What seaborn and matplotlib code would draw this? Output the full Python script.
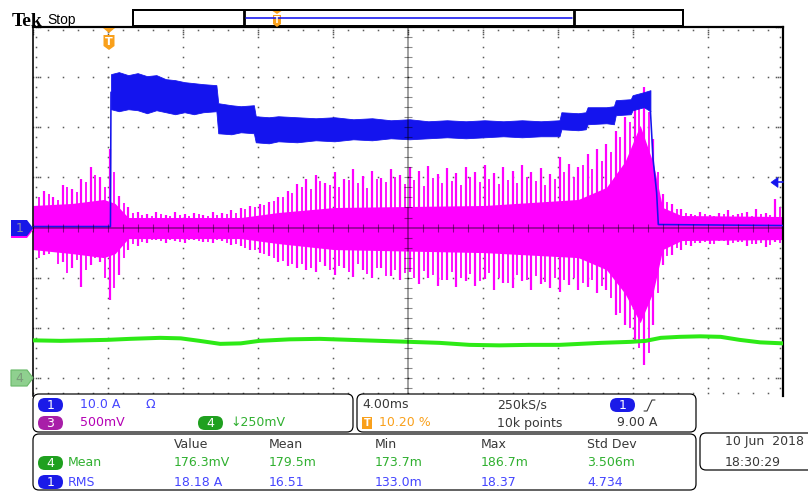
import numpy as np
import matplotlib
matplotlib.use("Agg")
import matplotlib.pyplot as plt
import matplotlib.transforms as mtransforms
from matplotlib.patches import FancyBboxPatch, Polygon, Rectangle
import seaborn as sns

sns.set_theme(style="white")
plt.rcParams["font.family"] = ["DejaVu Sans"]

# ---------------- acquisition settings ----------------
TIME_PER_DIV = 4.0        # ms / div
T_START = -4.08           # ms at left edge (trigger position 10.20 %)
CH1_A_PER_DIV = 10.0      # A / div
CH3_V_PER_DIV = 0.5       # V / div
CH4_V_PER_DIV = 0.25      # V / div
CH4_OFFSET_DIV = -3.0     # ch4 ground marker position
TRIG_LEVEL_A = 9.00

# ---------------- channel 1 : current (A) ----------------
ch1_lead_t = [-4.08, 0.05, 0.08]
ch1_lead_a = [0.2, 0.2, 27.0]
ch1_band_t = [0.08, 0.5, 1.0, 1.5, 2.0, 2.5, 3.0, 3.5, 4.0, 4.5, 5.0, 5.7, 5.8, 6.5,
              7.0, 7.7, 7.8, 8.5, 9.0, 10, 11, 12, 13, 14, 15, 16, 17, 18, 19, 20,
              21, 22, 23, 24.0, 24.1, 25.0, 25.4, 25.5, 26.5, 26.9, 27.0, 27.8, 27.9,
              28.5, 28.85]
ch1_band_hi = [30.6, 31.0, 30.4, 30.8, 30.2, 30.4, 29.6, 29.4, 29.0, 28.8, 28.6, 28.4,
               24.8, 24.4, 24.2, 24.4, 22.2, 22.0, 22.2, 22.0, 21.8, 22.0, 21.6, 21.8,
               21.4, 21.6, 21.2, 21.4, 21.2, 21.4, 21.2, 21.4, 21.2, 21.4, 23.0, 22.8,
               23.0, 24.0, 24.0, 24.2, 25.4, 25.6, 26.4, 27.0, 27.4]
ch1_band_lo = [23.6, 23.2, 23.6, 23.4, 22.8, 23.4, 23.0, 22.6, 23.0, 22.6, 23.0, 23.2,
               18.8, 18.6, 19.0, 18.8, 17.0, 16.8, 17.2, 17.0, 17.4, 17.2, 17.6, 17.4,
               17.8, 17.6, 17.8, 18.0, 17.8, 18.0, 18.2, 18.0, 18.2, 18.2, 19.6, 19.4,
               19.6, 20.6, 20.8, 20.6, 22.4, 22.6, 23.4, 24.0, 23.2]
ch1_tail_t = [28.85, 28.99, 29.18, 29.27, 35.92]
ch1_tail_a = [23.2, 13.6, 7.0, 0.6, 0.4]

# ---------------- channel 3 : voltage (V) ----------------
# main ringing peaks
ch3_spike_t = [-3.5, -3.0, -2.5, -2.0, -1.5, -1.0, -0.5, 0.0, 0.5, 1.0, 1.5, 2.0, 2.5,
               3.0, 3.5, 4.0, 4.5, 5.0, 5.5, 6.0, 6.5, 7.0, 7.5, 8.0, 8.5, 9.0, 9.5,
               10.0, 10.5, 11.0, 11.5, 12.0, 12.5, 13.0, 13.5, 14.0, 14.5, 15.0, 15.5,
               16.0, 16.5, 17.0, 17.5, 18.0, 18.5, 19.0, 19.5, 20.0, 20.5, 21.0, 21.5,
               22.0, 22.5, 23.0, 23.5, 24.0, 24.5, 25.0, 25.5, 26.0, 26.5, 27.0, 27.5,
               28.0, 28.5, 29.0, 29.5, 30.0, 30.5, 31.0, 31.5, 32.0, 32.5, 33.0, 33.5,
               34.0, 34.5, 35.0, 35.5]
ch3_spike_hi = [0.36, 0.30, 0.42, 0.38, 0.48, 0.60, 0.50, 0.78, 0.31, 0.20, 0.16, 0.14,
                0.16, 0.13, 0.16, 0.14, 0.15, 0.13, 0.16, 0.15, 0.17, 0.19, 0.21, 0.23,
                0.25, 0.30, 0.36, 0.43, 0.48, 0.52, 0.44, 0.55, 0.48, 0.58, 0.51, 0.56,
                0.49, 0.58, 0.52, 0.60, 0.56, 0.61, 0.53, 0.59, 0.54, 0.60, 0.55, 0.62,
                0.54, 0.60, 0.56, 0.62, 0.55, 0.59, 0.53, 0.70, 0.63, 0.60, 0.73, 0.78,
                0.83, 0.96, 1.10, 1.28, 1.40, 0.88, 0.33, 0.23, 0.18, 0.14, 0.16, 0.13,
                0.15, 0.17, 0.14, 0.16, 0.18, 0.15, 0.28]
ch3_spike_lo = [-0.27, -0.22, -0.34, -0.40, -0.59, -0.37, -0.34, -0.72, -0.47, -0.22,
                -0.18, -0.15, -0.12, -0.15, -0.13, -0.15, -0.12, -0.14, -0.15, -0.13,
                -0.17, -0.18, -0.22, -0.25, -0.28, -0.34, -0.38, -0.40, -0.42, -0.44,
                -0.38, -0.47, -0.40, -0.49, -0.42, -0.50, -0.40, -0.48, -0.52, -0.44,
                -0.56, -0.50, -0.58, -0.52, -0.59, -0.53, -0.58, -0.51, -0.62, -0.55,
                -0.60, -0.53, -0.62, -0.56, -0.60, -0.64, -0.57, -0.62, -0.59, -0.65,
                -0.62, -0.87, -0.97, -1.12, -1.37, -0.97, -0.37, -0.27, -0.22, -0.18,
                -0.15, -0.16, -0.13, -0.17, -0.14, -0.18, -0.16, -0.19, -0.14]
# smaller peaks between the main ones
ch3_minor_t = [-3.75, -3.25, -2.75, -2.25, -1.75, -1.25, -0.75, -0.25, 0.25, 0.75,
               1.25, 1.75, 2.25, 2.75, 3.25, 3.75, 4.25, 4.75, 5.25, 5.75, 6.25, 6.75,
               7.25, 7.75, 8.25, 8.75, 9.25, 9.75, 10.25, 10.75, 11.25, 11.75, 12.25,
               12.75, 13.25, 13.75, 14.25, 14.75, 15.25, 15.75, 16.25, 16.75, 17.25,
               17.75, 18.25, 18.75, 19.25, 19.75, 20.25, 20.75, 21.25, 21.75, 22.25,
               22.75, 23.25, 23.75, 24.25, 24.75, 25.25, 25.75, 26.25, 26.75, 27.25,
               27.75, 28.25, 28.75, 29.25, 29.75, 30.25, 30.75, 31.25, 31.75, 32.25,
               32.75, 33.25, 33.75, 34.25, 34.75, 35.25, 35.75]
ch3_minor_hi = [0.30, 0.33, 0.27, 0.40, 0.35, 0.45, 0.52, 0.40, 0.55, 0.24, 0.15, 0.13,
                0.12, 0.14, 0.12, 0.13, 0.12, 0.14, 0.12, 0.13, 0.14, 0.15, 0.18, 0.20,
                0.22, 0.26, 0.30, 0.34, 0.40, 0.38, 0.46, 0.42, 0.40, 0.47, 0.44, 0.39,
                0.48, 0.45, 0.50, 0.43, 0.47, 0.41, 0.49, 0.44, 0.46, 0.42, 0.50, 0.45,
                0.48, 0.43, 0.47, 0.44, 0.50, 0.46, 0.42, 0.48, 0.55, 0.50, 0.62, 0.58,
                0.66, 0.75, 0.90, 1.05, 1.20, 1.15, 0.55, 0.25, 0.18, 0.15, 0.13, 0.14,
                0.12, 0.14, 0.13, 0.15, 0.12, 0.14, 0.13, 0.20]
ch3_minor_lo = [-0.30, -0.26, -0.36, -0.45, -0.32, -0.42, -0.30, -0.50, -0.60, -0.30,
                -0.16, -0.14, -0.12, -0.13, -0.12, -0.14, -0.12, -0.13, -0.14, -0.12,
                -0.15, -0.16, -0.20, -0.22, -0.26, -0.30, -0.33, -0.36, -0.36, -0.40,
                -0.34, -0.42, -0.38, -0.44, -0.36, -0.46, -0.40, -0.48, -0.42, -0.45,
                -0.50, -0.43, -0.47, -0.52, -0.44, -0.50, -0.46, -0.53, -0.45, -0.50,
                -0.55, -0.47, -0.52, -0.48, -0.54, -0.50, -0.52, -0.50, -0.55, -0.52,
                -0.58, -0.70, -0.85, -1.00, -1.20, -1.25, -0.65, -0.28, -0.20, -0.17,
                -0.15, -0.14, -0.16, -0.13, -0.15, -0.14, -0.16, -0.15, -0.17, -0.15]
# dense noise body
ch3_core_t = [-4.08, -2.0, -0.3, 0.3, 1.0, 7.0, 9.0, 12.0, 20.0, 25.0, 26.5, 27.5, 28.3,
              29.0, 29.5, 30.5, 35.92]
ch3_core_hi = [0.22, 0.24, 0.28, 0.24, 0.10, 0.10, 0.15, 0.20, 0.22, 0.28, 0.40, 0.66,
               1.02, 0.64, 0.20, 0.12, 0.11]
ch3_core_lo = [-0.22, -0.26, -0.30, -0.26, -0.11, -0.11, -0.16, -0.22, -0.25, -0.30,
               -0.42, -0.66, -0.95, -0.64, -0.22, -0.13, -0.12]

# ---------------- channel 4 : voltage (mV) ----------------
ch4_t = [-4.08, -2.6, -0.1, 1.1, 2.7, 3.8, 4.8, 5.9, 7.0, 8.0, 9.6, 11.2, 12.8, 14.4,
         16.0, 17.6, 19.2, 20.8, 22.4, 24.0, 26.2, 27.8, 28.6, 29.4, 30.4, 31.5, 32.6,
         33.6, 34.7, 35.92]
ch4_mv = [187.5, 185, 190, 195, 200, 197.5, 185, 170, 172.5, 185, 192.5, 195, 190, 185,
          180, 175, 165, 162.5, 165, 165, 175, 180, 185, 200, 205, 207.5, 205, 190,
          177.5, 172.5]

# ---------------- readouts ----------------
meas_headers = ["Value", "Mean", "Min", "Max", "Std Dev"]
ch4_mean_stats = ["176.3mV", "179.5m", "173.7m", "186.7m", "3.506m"]
ch1_rms_stats = ["18.18 A", "16.51", "133.0m", "18.37", "4.734"]

# ---------------- colours ----------------
BLUE = "#1414EE"
BLUE_TXT = "#4646FF"
MAG = "#FF00FF"
PURP = "#A81EA8"
PURP_TXT = "#B400B4"
GRN = "#2DEA16"
GRN_PILL = "#1FA01F"
GRN_TXT = "#30B030"
ORANGE = "#F9A01B"
GRAY_TXT = "#383838"

W, H = 808, 491
PX = 0.72  # points per pixel at 100 dpi

fig = plt.figure(figsize=(W / 100, H / 100), dpi=100)
fig.patch.set_facecolor("white")

# ---------------- graticule axes ----------------
ax = fig.add_axes([33 / W, (H - 396) / H, 750 / W, 369 / H])
t_end = T_START + 10 * TIME_PER_DIV
Y_BOT, Y_TOP = -3.36, 4.0
ax.set_xlim(T_START, t_end)
ax.set_ylim(Y_BOT, Y_TOP)
ax.set_facecolor("white")
ax.set_xticks([])
ax.set_yticks([])
for side, lw in (("left", 1.6), ("top", 2.2), ("right", 2.2)):
    ax.spines[side].set_color("black")
    ax.spines[side].set_linewidth(lw * PX)
ax.spines["bottom"].set_visible(False)

xpx = (t_end - T_START) / 750.0
ypx = (Y_TOP - Y_BOT) / 369.0

minor_x = T_START + 0.2 * TIME_PER_DIV * np.arange(0, 51)
minor_y = 0.2 * np.arange(-16, 21)
dot_kw = dict(ls="none", marker="s", ms=1.1, mew=0, color="#5a5a5a", zorder=1)
for i in range(1, 10):
    if i == 5:
        continue
    ax.plot(np.full(minor_y.size, T_START + i * TIME_PER_DIV), minor_y, **dot_kw)
for j in range(-3, 4):
    if j == 0:
        continue
    ax.plot(minor_x, np.full(minor_x.size, float(j)), **dot_kw)

# edge ticks
ax.plot(np.full(minor_y.size, T_START + 3 * xpx), minor_y, **dot_kw)
ax.plot(np.full(minor_y.size, t_end - 3 * xpx), minor_y, **dot_kw)
ax.plot(minor_x, np.full(minor_x.size, Y_TOP - 3 * ypx), **dot_kw)
ax.plot(minor_x, np.full(minor_x.size, Y_BOT + 3 * ypx), **dot_kw)
major_y = np.arange(-3, 5).astype(float)
major_x = T_START + TIME_PER_DIV * np.arange(0, 11)
for off in (5, 7):
    ax.plot(np.full(major_y.size, T_START + off * xpx), major_y, **dot_kw)
    ax.plot(np.full(major_y.size, t_end - off * xpx), major_y, **dot_kw)
    ax.plot(major_x, np.full(major_x.size, Y_TOP - off * ypx), **dot_kw)

# ---------------- traces ----------------
ax.fill_between(ch3_core_t, np.array(ch3_core_hi) / CH3_V_PER_DIV,
                np.array(ch3_core_lo) / CH3_V_PER_DIV, color=MAG, lw=0, zorder=2)
ax.vlines(ch3_minor_t, np.array(ch3_minor_lo) / CH3_V_PER_DIV,
          np.array(ch3_minor_hi) / CH3_V_PER_DIV, color=MAG, lw=1.8 * PX, zorder=2)
ax.vlines(ch3_spike_t, np.array(ch3_spike_lo) / CH3_V_PER_DIV,
          np.array(ch3_spike_hi) / CH3_V_PER_DIV, color=MAG, lw=2.2 * PX, zorder=2)

sns.lineplot(x=ch4_t, y=np.array(ch4_mv) / 1000.0 / CH4_V_PER_DIV + CH4_OFFSET_DIV,
             ax=ax, color=GRN, lw=4.0 * PX, estimator=None, sort=False,
             legend=False, zorder=3)

ax.fill_between(ch1_band_t, np.array(ch1_band_hi) / CH1_A_PER_DIV,
                np.array(ch1_band_lo) / CH1_A_PER_DIV, color=BLUE, ec=BLUE,
                lw=0.8 * PX, zorder=4)
sns.lineplot(x=ch1_lead_t, y=np.array(ch1_lead_a) / CH1_A_PER_DIV, ax=ax, color=BLUE,
             lw=1.6 * PX, estimator=None, sort=False, legend=False, zorder=4)
sns.lineplot(x=ch1_tail_t, y=np.array(ch1_tail_a) / CH1_A_PER_DIV, ax=ax, color=BLUE,
             lw=1.6 * PX, estimator=None, sort=False, legend=False, zorder=4)

# ---------------- centre crosshair ----------------
cross_kw = dict(color="black", alpha=0.45, zorder=6)
center_t = T_START + 5 * TIME_PER_DIV
ax.axvline(center_t, lw=1.6 * PX, **cross_kw)
ax.axhline(0, lw=1.6 * PX, **cross_kw)
ty = minor_y[np.abs(minor_y) > 1e-9]
ax.hlines(ty, center_t - 4 * xpx, center_t + 4 * xpx, lw=1.1 * PX, **cross_kw)
tx = minor_x[np.abs(minor_x - center_t) > 1e-9]
ax.vlines(tx, -4 * ypx, 4 * ypx, lw=1.1 * PX, **cross_kw)

# trigger level arrow on the right edge
trig_div = TRIG_LEVEL_A / CH1_A_PER_DIV
trans = mtransforms.blended_transform_factory(ax.transAxes, ax.transData)
ax.add_patch(Polygon([(1 - 12 / 750, trig_div), (1 - 5 / 750, trig_div + 5 * ypx),
                      (1 - 5 / 750, trig_div - 5 * ypx)], closed=True, fc=BLUE,
                     ec=BLUE, lw=0.5, transform=trans, clip_on=False, zorder=7))
ax.plot([1 - 6 / 750, 1.0], [trig_div, trig_div], color=BLUE, lw=1.6 * PX,
        transform=trans, clip_on=False, zorder=7)

# ---------------- screen furniture (pixel coordinates) ----------------
ui = fig.add_axes([0, 0, 1, 1], zorder=5)
ui.set_xlim(0, W)
ui.set_ylim(H, 0)
ui.axis("off")

FS = 9


def rbox(x0, y0, x1, y1, r=6, lw=1.2, ec="black", fc="white", z=1):
    ui.add_patch(FancyBboxPatch((x0, y0), x1 - x0, y1 - y0,
                                boxstyle=f"round,pad=0,rounding_size={r}",
                                ec=ec, fc=fc, lw=lw * PX, zorder=z))


def pill(x0, y0, label, color):
    rbox(x0, y0, x0 + 25, y0 + 14, r=7, lw=0, ec=color, fc=color, z=2)
    ui.text(x0 + 12.5, y0 + 7.3, label, color="white", fontsize=FS,
            ha="center", va="center", zorder=3)


def txt(x, y, s, color=GRAY_TXT, **kw):
    ui.text(x, y, s, color=color, fontsize=FS, ha="left", va="center", **kw)


# title
ui.text(12, 26, "Tek", family="Liberation Serif", weight="bold", fontsize=14,
        color="black", va="baseline")
ui.text(47, 24, "Stop", family="Liberation Sans", fontsize=10, color="black",
        va="baseline")

# record bar
ui.add_patch(Rectangle((133, 10), 550, 16, fc="white", ec="black", lw=2 * PX))
ui.plot([244, 244], [10, 26], color="black", lw=2.8 * PX)
ui.plot([574, 574], [10, 26], color="black", lw=2.8 * PX)
ui.plot([246, 572], [18, 18], color=BLUE, lw=1.6 * PX)
ui.add_patch(Polygon([(272.5, 11), (281.5, 11), (277, 14)], fc=ORANGE, ec="none"))
ui.add_patch(Polygon([(273, 15), (281, 15), (281, 24), (277, 27), (273, 24)],
                     fc=ORANGE, ec="none"))
ui.text(277, 20.5, "T", color="white", fontsize=6, weight="bold", ha="center",
        va="center")

# trigger position marker
ui.add_patch(Polygon([(103, 28), (115, 28), (109, 33)], fc=ORANGE, ec="none"))
ui.add_patch(Polygon([(103.5, 35), (114.5, 35), (114.5, 46), (109, 50), (103.5, 46)],
                     fc=ORANGE, ec="none"))
ui.text(109, 41.5, "T", color="white", fontsize=8, weight="bold", ha="center",
        va="center")

# channel ground markers
ui.add_patch(Polygon([(11, 222), (27, 222), (33, 230), (27, 238), (11, 238)],
                     fc=MAG, ec="none"))
ui.add_patch(Polygon([(11, 220), (27, 220), (33, 228), (27, 236), (11, 236)],
                     fc="#1818E8", ec="none"))
ui.text(19.5, 228.5, "1", color="#8C8CA8", fontsize=FS, ha="center", va="center")
ui.add_patch(Polygon([(11, 370), (27, 370), (33, 378), (27, 386), (11, 386)],
                     fc="#8FD08F", ec="#6DBB6D", lw=1.2 * PX))
ui.text(19.5, 378.5, "4", color="#7A9A7A", fontsize=FS, ha="center", va="center")

# vertical settings box
rbox(33, 394, 353, 432)
pill(38, 398, "1", "#1A1AE8")
txt(80, 405, "10.0 A", BLUE_TXT)
txt(145, 405, "Ω", BLUE_TXT)
pill(38, 416, "3", PURP)
txt(80, 423, "500mV", PURP_TXT)
pill(198, 416, "4", GRN_PILL)
txt(230, 423, "↓250mV", GRN_TXT)

# horizontal / trigger box
rbox(357, 394, 696, 432)
txt(362, 405, "4.00ms")
txt(497, 405, "250kS/s")
pill(610, 398, "1", "#1A1AE8")
ui.plot([644, 647, 652, 655], [411, 411, 400, 400], color=GRAY_TXT, lw=1.1 * PX)
ui.add_patch(Rectangle((362, 417), 9.5, 12, fc=ORANGE, ec="none", zorder=2))
ui.text(366.8, 423.3, "T", color="white", fontsize=7, weight="bold", ha="center",
        va="center", zorder=3)
txt(379, 423, "10.20 %", ORANGE)
txt(497, 423, "10k points")
txt(617, 423, "9.00 A")

# measurement box
rbox(33, 434, 696, 490)
cols = [174, 269, 375, 481, 587]
for cx, h in zip(cols, meas_headers):
    txt(cx, 444, h)
pill(38, 456, "4", GRN_PILL)
txt(68, 463, "Mean", GRN_TXT)
for cx, v in zip(cols, ch4_mean_stats):
    txt(cx, 463, v, GRN_TXT)
pill(38, 475, "1", "#1A1AE8")
txt(68, 482, "RMS", BLUE_TXT)
for cx, v in zip(cols, ch1_rms_stats):
    txt(cx, 482, v, BLUE_TXT)

# date / time box
rbox(700, 433, 816, 470)
txt(725, 441, "10 Jun  2018")
txt(725, 462, "18:30:29")

fig.savefig("out.png", dpi=100, facecolor="white")
